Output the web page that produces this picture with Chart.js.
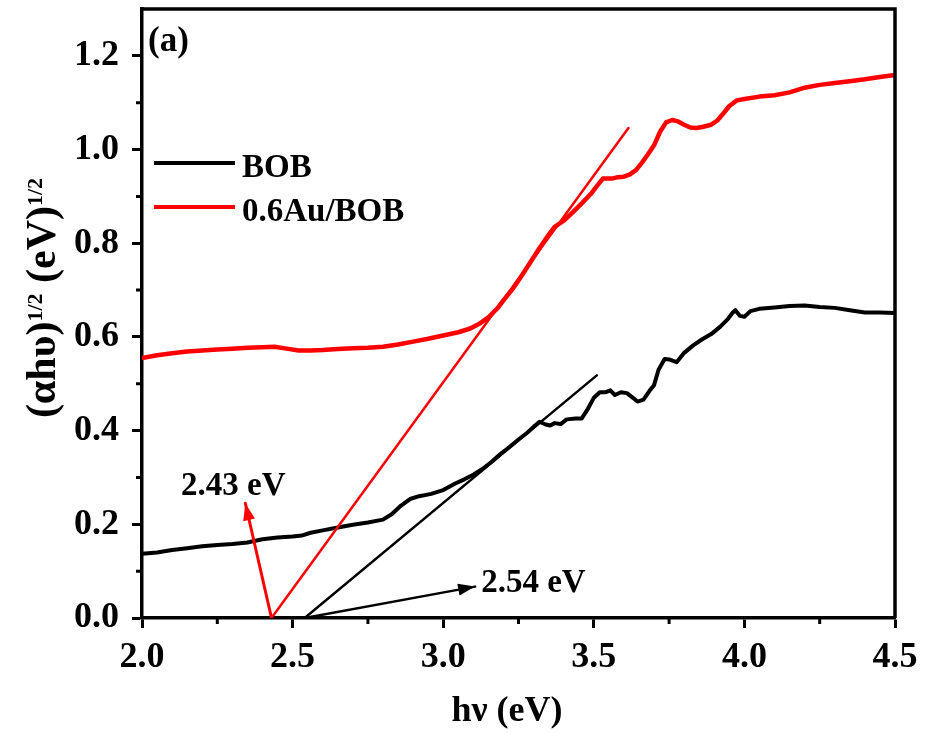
<!DOCTYPE html>
<html>
<head>
<meta charset="utf-8">
<script src="https://cdn.jsdelivr.net/npm/chart.js@4/dist/chart.umd.min.js"></script>
<style>
  html, body { margin: 0; padding: 0; background: #fff; }
  #wrap { width: 928px; height: 733px; position: relative; }
</style>
</head>
<body>
<div id="wrap"><canvas id="c"></canvas></div>
<script>
// Photon energy (eV) and Tauc values (αhυ)^1/2 for BOB
const bobX = [2.00, 2.05, 2.10, 2.15, 2.20, 2.25, 2.30, 2.35, 2.40, 2.45, 2.50, 2.53, 2.56, 2.60, 2.65, 2.70, 2.75, 2.80,
  2.83, 2.86, 2.89, 2.92, 2.96, 3.00, 3.04, 3.07, 3.10, 3.13, 3.16, 3.19, 3.22, 3.25, 3.28, 3.30, 3.32, 3.34, 3.355,
  3.37, 3.39, 3.41, 3.44, 3.46, 3.48, 3.50, 3.52, 3.54, 3.555, 3.57, 3.59, 3.61, 3.63, 3.645, 3.665, 3.685, 3.70,
  3.715, 3.735, 3.75, 3.775, 3.80, 3.83, 3.86, 3.89, 3.92, 3.945, 3.96, 3.97, 3.985, 4.00, 4.02, 4.05, 4.10, 4.15,
  4.20, 4.25, 4.30, 4.35, 4.40, 4.45, 4.50];
const bobY = [0.137, 0.140, 0.145, 0.149, 0.153, 0.156, 0.158, 0.161, 0.168, 0.172, 0.174, 0.176, 0.182, 0.187, 0.193,
  0.199, 0.204, 0.210, 0.222, 0.240, 0.254, 0.260, 0.265, 0.273, 0.287, 0.296, 0.306, 0.318, 0.333, 0.350, 0.365,
  0.381, 0.396, 0.408, 0.419, 0.413, 0.411, 0.416, 0.414, 0.424, 0.426, 0.426, 0.446, 0.470, 0.482, 0.482, 0.486,
  0.476, 0.482, 0.480, 0.470, 0.462, 0.466, 0.485, 0.497, 0.530, 0.553, 0.552, 0.546, 0.566, 0.582, 0.595, 0.606,
  0.622, 0.638, 0.651, 0.657, 0.645, 0.643, 0.655, 0.660, 0.663, 0.666, 0.667, 0.664, 0.662, 0.657, 0.652, 0.652, 0.651];

// Photon energy (eV) and Tauc values for 0.6Au/BOB
const auX = [2.00, 2.05, 2.10, 2.15, 2.20, 2.25, 2.30, 2.35, 2.40, 2.44, 2.48, 2.52, 2.56, 2.60, 2.65, 2.70, 2.75, 2.80,
  2.85, 2.90, 2.95, 3.00, 3.05, 3.09, 3.12, 3.15, 3.18, 3.20, 3.23, 3.26, 3.29, 3.32, 3.35, 3.37, 3.40, 3.43, 3.46,
  3.49, 3.51, 3.53, 3.56, 3.58, 3.60, 3.62, 3.64, 3.66, 3.68, 3.70, 3.72, 3.74, 3.76, 3.78, 3.80, 3.82, 3.84, 3.86,
  3.89, 3.91, 3.93, 3.95, 3.975, 4.00, 4.05, 4.10, 4.15, 4.20, 4.25, 4.30, 4.35, 4.40, 4.45, 4.50];
const auY = [0.555, 0.561, 0.565, 0.569, 0.571, 0.573, 0.575, 0.577, 0.578, 0.579, 0.575, 0.571, 0.571, 0.572, 0.574,
  0.576, 0.577, 0.579, 0.584, 0.590, 0.596, 0.603, 0.610, 0.618, 0.628, 0.642, 0.661, 0.678, 0.702, 0.730, 0.760,
  0.790, 0.818, 0.835, 0.848, 0.866, 0.885, 0.905, 0.922, 0.938, 0.938, 0.941, 0.942, 0.947, 0.956, 0.972, 0.990,
  1.009, 1.038, 1.058, 1.063, 1.060, 1.053, 1.047, 1.046, 1.048, 1.053, 1.062, 1.077, 1.093, 1.105, 1.108, 1.113,
  1.116, 1.122, 1.132, 1.138, 1.142, 1.146, 1.150, 1.155, 1.159];

// Linear extrapolations of the absorption edge down to the energy axis
const bobFitX = [2.54, 3.51];
const bobFitY = [0.0, 0.518];
const auFitX = [2.43, 3.615];
const auFitY = [0.0, 1.046];

// Arrows pointing from each intercept to its band-gap label
const bobArrowX = [2.54, 3.106];
const bobArrowY = [0.0, 0.067];
const auArrowX = [2.43, 2.343];
const auArrowY = [0.0, 0.245];
const bobGapLabel = '2.54 eV';
const auGapLabel = '2.43 eV';

// Axis ticks
const xTicks = [2.0, 2.5, 3.0, 3.5, 4.0, 4.5];
const yTicks = [0.0, 0.2, 0.4, 0.6, 0.8, 1.0, 1.2];
const xMinorTicks = [2.25, 2.75, 3.25, 3.75, 4.25];
const yMinorTicks = [0.1, 0.3, 0.5, 0.7, 0.9, 1.1];

const seriesNames = ['BOB', '0.6Au/BOB'];
const panelLabel = '(a)';

const FONT = '"Liberation Serif", "Times New Roman", serif';
const toPts = (xs, ys) => xs.map((x, i) => ({ x: x, y: ys[i] }));

const decor = {
  id: 'decor',
  afterDatasetsDraw(chart) {
    const ctx = chart.ctx;
    const a = chart.chartArea;
    const xs = chart.scales.x, ys = chart.scales.y;
    ctx.save();

    // frame: top and right edges
    ctx.strokeStyle = '#000';
    ctx.lineWidth = 3.5;
    ctx.beginPath();
    ctx.moveTo(a.left, a.top);
    ctx.lineTo(a.right, a.top);
    ctx.lineTo(a.right, a.bottom);
    ctx.stroke();

    // minor ticks
    ctx.lineWidth = 3;
    ctx.beginPath();
    xMinorTicks.forEach(v => {
      const px = xs.getPixelForValue(v);
      ctx.moveTo(px, a.bottom);
      ctx.lineTo(px, a.bottom + 6);
    });
    yMinorTicks.forEach(v => {
      const py = ys.getPixelForValue(v);
      ctx.moveTo(a.left, py);
      ctx.lineTo(a.left - 6, py);
    });
    ctx.stroke();

    // arrowheads
    chart.data.datasets.forEach(ds => {
      if (!ds.arrow) return;
      const p0 = ds.data[ds.data.length - 2], p1 = ds.data[ds.data.length - 1];
      const x0 = xs.getPixelForValue(p0.x), y0 = ys.getPixelForValue(p0.y);
      const x1 = xs.getPixelForValue(p1.x), y1 = ys.getPixelForValue(p1.y);
      const ang = Math.atan2(y1 - y0, x1 - x0);
      const L = 17, W = 6;
      ctx.fillStyle = ds.borderColor;
      ctx.beginPath();
      ctx.moveTo(x1, y1);
      ctx.lineTo(x1 - L * Math.cos(ang) + W * Math.sin(ang), y1 - L * Math.sin(ang) - W * Math.cos(ang));
      ctx.lineTo(x1 - L * Math.cos(ang) - W * Math.sin(ang), y1 - L * Math.sin(ang) + W * Math.cos(ang));
      ctx.closePath();
      ctx.fill();
    });

    // band-gap labels next to the arrow tips
    ctx.fillStyle = '#000';
    ctx.font = 'bold 33px ' + FONT;
    const auTipX = xs.getPixelForValue(auArrowX[1]), auTipY = ys.getPixelForValue(auArrowY[1]);
    ctx.textAlign = 'center';
    ctx.textBaseline = 'alphabetic';
    ctx.fillText(auGapLabel, auTipX - 12, auTipY - 8);
    const bTipX = xs.getPixelForValue(bobArrowX[1]), bTipY = ys.getPixelForValue(bobArrowY[1]);
    ctx.textAlign = 'left';
    ctx.fillText(bobGapLabel, bTipX + 6, bTipY + 5);

    // panel label
    ctx.font = 'bold 35px ' + FONT;
    ctx.fillText(panelLabel, a.left + 6, a.top + 42);

    // legend
    const legendRows = [
      { name: seriesNames[0], color: chart.data.datasets[0].borderColor, y: 163 },
      { name: seriesNames[1], color: chart.data.datasets[1].borderColor, y: 207 }
    ];
    ctx.font = 'bold 33px ' + FONT;
    legendRows.forEach(r => {
      ctx.strokeStyle = r.color;
      ctx.lineWidth = 4;
      ctx.beginPath();
      ctx.moveTo(a.left + 12, r.y);
      ctx.lineTo(a.left + 93, r.y);
      ctx.stroke();
      ctx.fillStyle = '#000';
      ctx.fillText(r.name, a.left + 100, r.y + 14);
    });

    // x-axis title
    ctx.textAlign = 'center';
    ctx.font = 'bold 36px ' + FONT;
    ctx.fillText('h\u03BD (eV)', 507, 721);

    // y-axis title with superscripts
    const parts = [
      { t: '(\u03B1h\u03C5)', sup: false },
      { t: '1/2', sup: true },
      { t: ' (eV)', sup: false },
      { t: '1/2', sup: true }
    ];
    const bigF = 'bold 42px ' + FONT, smallF = 'bold 22px ' + FONT;
    let total = 0;
    parts.forEach(p => { ctx.font = p.sup ? smallF : bigF; p.w = ctx.measureText(p.t).width; total += p.w; });
    ctx.translate(55, 298);
    ctx.rotate(-Math.PI / 2);
    ctx.textAlign = 'left';
    let cx = -total / 2;
    parts.forEach(p => {
      ctx.font = p.sup ? smallF : bigF;
      ctx.fillText(p.t, cx, p.sup ? -13 : 0);
      cx += p.w;
    });

    ctx.restore();
  }
};

new Chart(document.getElementById('c'), {
  type: 'line',
  data: {
    datasets: [
      { label: seriesNames[0], data: toPts(bobX, bobY), borderColor: '#000000', borderWidth: 4, order: 3 },
      { label: seriesNames[1], data: toPts(auX, auY), borderColor: '#ff0000', borderWidth: 4.5, order: 4 },
      { label: 'BOB fit', data: toPts(bobFitX, bobFitY), borderColor: '#000000', borderWidth: 2.5, order: 2 },
      { label: '0.6Au/BOB fit', data: toPts(auFitX, auFitY), borderColor: '#ff0000', borderWidth: 2.5, order: 1 },
      { label: 'BOB arrow', data: toPts(bobArrowX, bobArrowY), borderColor: '#000000', borderWidth: 2.5, order: 2, arrow: true },
      { label: '0.6Au/BOB arrow', data: toPts(auArrowX, auArrowY), borderColor: '#ff0000', borderWidth: 3, order: 1, arrow: true }
    ]
  },
  options: {
    responsive: true,
    maintainAspectRatio: false,
    animation: false,
    devicePixelRatio: 1,
    layout: { padding: { left: 0, right: 33, top: 9, bottom: 0 } },
    elements: {
      point: { radius: 0, hoverRadius: 0 },
      line: { tension: 0, fill: false, borderCapStyle: 'round', borderJoinStyle: 'round' }
    },
    plugins: { legend: { display: false }, tooltip: { enabled: false } },
    scales: {
      x: {
        type: 'linear',
        min: 2.0, max: 4.5,
        afterBuildTicks: s => { s.ticks = xTicks.map(v => ({ value: v })); },
        afterFit: s => { s.height = 115; s.paddingLeft = 0; s.paddingRight = 0; },
        border: { display: true, color: '#000', width: 3.5 },
        grid: { drawOnChartArea: false, drawTicks: true, tickLength: 10, tickWidth: 3, tickColor: '#000' },
        ticks: {
          color: '#000', padding: 8, maxRotation: 0, autoSkip: false,
          font: { family: FONT, size: 36, weight: 'bold' },
          callback: v => Number(v).toFixed(1)
        }
      },
      y: {
        type: 'linear',
        min: 0.0, max: 1.3,
        afterBuildTicks: s => { s.ticks = yTicks.map(v => ({ value: v })); },
        afterFit: s => { s.width = 142; s.paddingTop = 0; s.paddingBottom = 0; },
        border: { display: true, color: '#000', width: 3.5 },
        grid: { drawOnChartArea: false, drawTicks: true, tickLength: 10, tickWidth: 3, tickColor: '#000' },
        ticks: {
          color: '#000', padding: 13, autoSkip: false,
          font: { family: FONT, size: 36, weight: 'bold' },
          callback: v => Number(v).toFixed(1)
        }
      }
    }
  },
  plugins: [decor]
});
</script>
</body>
</html>
